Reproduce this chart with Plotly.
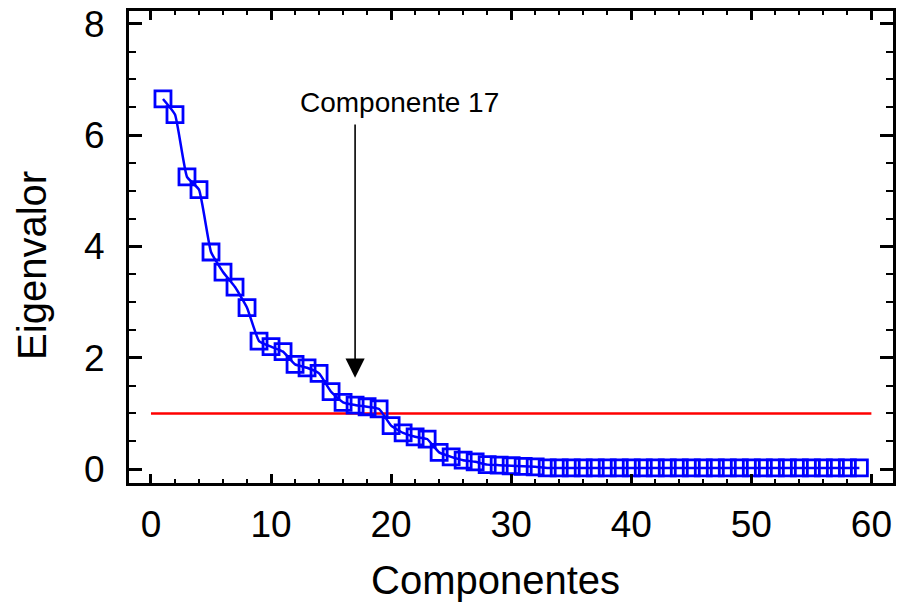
import plotly.graph_objects as go

componentes = list(range(1, 60))
eigenvalor = [6.65, 6.37, 5.25, 5.02, 3.90, 3.54, 3.27, 2.90, 2.30, 2.20,
              2.11, 1.88, 1.82, 1.72, 1.39, 1.20, 1.15, 1.12, 1.08, 0.78,
              0.65, 0.58, 0.54, 0.30, 0.22, 0.16, 0.13, 0.08, 0.07, 0.06,
              0.05, 0.04, 0.02, 0.02, 0.02, 0.02, 0.02, 0.02, 0.02, 0.02,
              0.02, 0.02, 0.02, 0.02, 0.02, 0.02, 0.02, 0.02, 0.02, 0.02,
              0.02, 0.02, 0.02, 0.02, 0.02, 0.02, 0.02, 0.02, 0.02]
ref_x = [0, 60]
ref_y = [1.0, 1.0]
x_ticks = [0, 10, 20, 30, 40, 50, 60]
y_ticks = [0, 2, 4, 6, 8]
arrow_x = 17
arrow_tip = 1.64
arrow_tail = 6.22
label_text = "Componente 17"

FONT = "Arial, Liberation Sans, sans-serif"

fig = go.Figure()
fig.add_trace(go.Scatter(
    x=ref_x, y=ref_y, mode="lines",
    line=dict(color="#ff0000", width=2.5), showlegend=False, hoverinfo="skip"))
fig.add_trace(go.Scatter(
    x=componentes, y=eigenvalor, mode="lines+markers",
    line=dict(color="#0000ff", width=2.5, shape="spline", smoothing=0.4),
    marker=dict(symbol="square-open", size=16, color="#0000ff",
                line=dict(color="#0000ff", width=2.8)),
    showlegend=False))

axis_common = dict(
    showline=True, linecolor="black", linewidth=3, mirror="allticks",
    ticks="inside", tickcolor="black", tickwidth=2.5,
    showgrid=False, zeroline=False,
    tickfont=dict(family=FONT, size=37, color="black"),
)

fig.update_xaxes(range=[-1.83, 61.8], tickvals=x_ticks, ticklen=9,
                 minor=dict(dtick=2, ticks="inside", ticklen=4, tickwidth=2, tickcolor="black"),
                 ticklabelstandoff=7, **axis_common)
fig.update_yaxes(range=[-0.25, 8.23], tickvals=y_ticks, ticklen=13,
                 minor=dict(dtick=0.5, ticks="inside", ticklen=7, tickwidth=2, tickcolor="black"),
                 ticklabelstandoff=14, **axis_common)

fig.add_annotation(x=arrow_x, y=arrow_tip, ax=arrow_x, ay=arrow_tail,
                   xref="x", yref="y", axref="x", ayref="y",
                   showarrow=True, arrowhead=2, arrowsize=2.4, arrowwidth=1.6,
                   arrowcolor="black", text="")
fig.add_annotation(x=20.7, y=6.58, xref="x", yref="y", text=label_text,
                   showarrow=False, font=dict(family=FONT, size=28, color="black"))
fig.add_annotation(x=0.4798, y=-0.2055, xref="paper", yref="paper",
                   xanchor="center", yanchor="middle",
                   text="Componentes", showarrow=False,
                   font=dict(family=FONT, size=40, color="black"))
fig.add_annotation(x=-0.127, y=0.462, xref="paper", yref="paper",
                   xanchor="center", yanchor="middle", textangle=-90,
                   text="Eigenvalor", showarrow=False,
                   font=dict(family=FONT, size=40, color="black"))

fig.update_layout(
    width=899, height=605,
    margin=dict(l=129, r=3, t=11, b=122),
    plot_bgcolor="white", paper_bgcolor="white",
)

fig.write_html("out.html")
